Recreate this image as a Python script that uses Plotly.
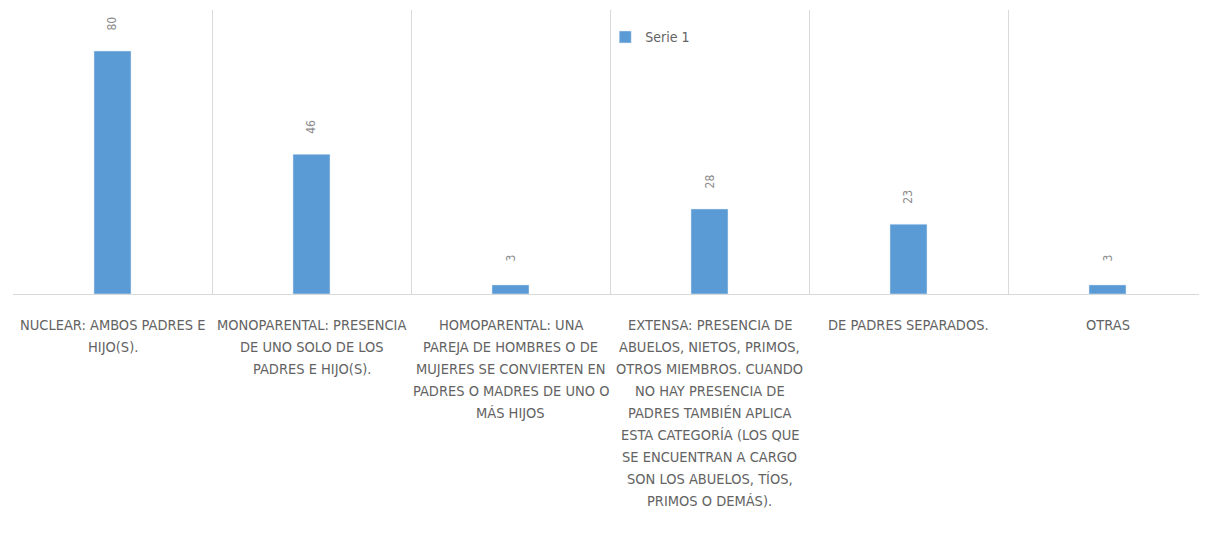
import plotly.graph_objects as go

categories = [
    "NUCLEAR: AMBOS PADRES E HIJO(S).",
    "MONOPARENTAL: PRESENCIA DE UNO SOLO DE LOS PADRES E HIJO(S).",
    "HOMOPARENTAL: UNA PAREJA DE HOMBRES O DE MUJERES SE CONVIERTEN EN PADRES O MADRES DE UNO O MÁS HIJOS",
    "EXTENSA: PRESENCIA DE ABUELOS, NIETOS, PRIMOS, OTROS MIEMBROS. CUANDO NO HAY PRESENCIA DE PADRES TAMBIÉN APLICA ESTA CATEGORÍA (LOS QUE SE ENCUENTRAN A CARGO SON LOS ABUELOS, TÍOS, PRIMOS O DEMÁS).",
    "DE PADRES SEPARADOS.",
    "OTRAS",
]
label_lines = [
    ["NUCLEAR: AMBOS PADRES E", "HIJO(S)."],
    ["MONOPARENTAL: PRESENCIA", "DE UNO SOLO DE LOS", "PADRES E HIJO(S)."],
    ["HOMOPARENTAL: UNA", "PAREJA DE HOMBRES O DE", "MUJERES SE CONVIERTEN EN",
     "PADRES O MADRES DE UNO O", "MÁS HIJOS"],
    ["EXTENSA: PRESENCIA DE", "ABUELOS, NIETOS, PRIMOS,", "OTROS MIEMBROS. CUANDO",
     "NO HAY PRESENCIA DE", "PADRES TAMBIÉN APLICA", "ESTA CATEGORÍA (LOS QUE",
     "SE ENCUENTRAN A CARGO", "SON LOS ABUELOS, TÍOS,", "PRIMOS O DEMÁS)."],
    ["DE PADRES SEPARADOS."],
    ["OTRAS"],
]
values = [80, 46, 3, 28, 23, 3]
series_name = "Serie 1"

FONT = "Liberation Sans Narrow, DejaVu Sans Condensed, Open Sans, sans-serif"
GRAY = "#636363"

fig = go.Figure()
fig.add_trace(go.Bar(
    x=categories, y=values, name=series_name,
    marker=dict(color="#5B9BD5"), width=0.186,
    showlegend=True,
))

annotations = []
for c, v in zip(categories, values):
    annotations.append(dict(
        x=c, y=v, xref="x", yref="y", text=str(v), showarrow=False,
        textangle=-90, yanchor="middle", yshift=27,
        font=dict(family=FONT, size=12, color="#8c8c8c"),
    ))
for c, lines in zip(categories, label_lines):
    for i, ln in enumerate(lines):
        annotations.append(dict(
            x=c, y=0, xref="x", yref="paper", text=ln, showarrow=False,
            yanchor="middle", yshift=-31 - 22 * i,
            font=dict(family=FONT, size=14.5, color=GRAY),
        ))

fig.update_layout(
    width=1199, height=544,
    margin=dict(l=5, r=0, t=2, b=258),
    paper_bgcolor="white", plot_bgcolor="white",
    annotations=annotations,
    legend=dict(x=0.496, y=0.96, xanchor="left", yanchor="top",
                font=dict(family=FONT, size=14, color=GRAY),
                bgcolor="rgba(0,0,0,0)", itemwidth=30),
    xaxis=dict(showticklabels=False, tickson="boundaries", showgrid=True,
               gridcolor="#d9d9d9", gridwidth=1, ticks="",
               showline=True, linecolor="#d9d9d9", linewidth=1),
    yaxis=dict(range=[0, 93.5], showticklabels=False, showgrid=False,
               zeroline=False, showline=False),
    bargap=0.8,
)

fig.write_html("out.html")
